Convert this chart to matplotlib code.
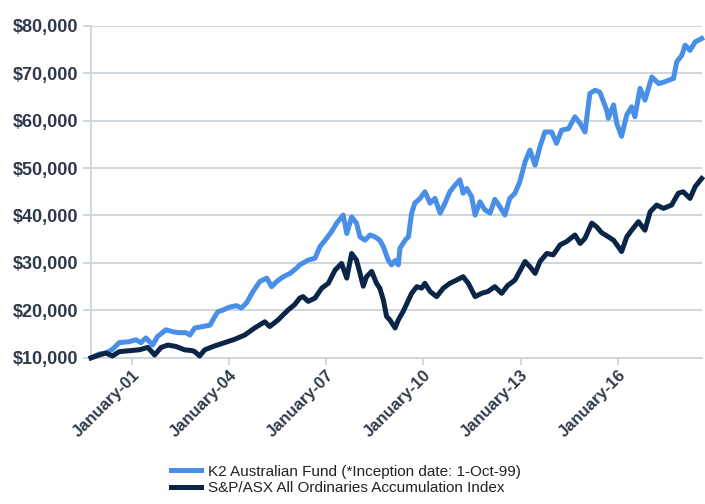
import numpy as np
import pandas as pd
import matplotlib
matplotlib.use("Agg")
import matplotlib.pyplot as plt
from matplotlib.ticker import FuncFormatter

# Growth of $10,000, x as decimal years
k2_years = [1999.75, 2000.00, 2000.21, 2000.41, 2000.62, 2000.93, 2001.13, 2001.29, 2001.44,
            2001.65, 2001.80, 2002.06, 2002.27, 2002.46, 2002.68, 2002.80, 2002.95, 2003.20,
            2003.42, 2003.51, 2003.66, 2003.83, 2004.03, 2004.24, 2004.39, 2004.55, 2004.75,
            2004.96, 2005.17, 2005.32, 2005.48, 2005.68, 2005.89, 2006.09, 2006.19, 2006.45,
            2006.66, 2006.81, 2007.02, 2007.17, 2007.33, 2007.53, 2007.64, 2007.79, 2007.94,
            2008.05, 2008.20, 2008.36, 2008.51, 2008.66, 2008.77, 2008.92, 2009.02, 2009.13,
            2009.23, 2009.28, 2009.44, 2009.54, 2009.64, 2009.74, 2009.90, 2010.05, 2010.21,
            2010.36, 2010.52, 2010.67, 2010.82, 2010.98, 2011.13, 2011.23, 2011.34, 2011.49,
            2011.60, 2011.75, 2011.90, 2012.06, 2012.21, 2012.37, 2012.52, 2012.67, 2012.83,
            2012.98, 2013.14, 2013.29, 2013.45, 2013.60, 2013.75, 2013.96, 2014.11, 2014.27,
            2014.48, 2014.68, 2014.84, 2014.99, 2015.14, 2015.30, 2015.45, 2015.56, 2015.66,
            2015.71, 2015.87, 2015.97, 2016.12, 2016.28, 2016.43, 2016.53, 2016.69, 2016.84,
            2017.05, 2017.26, 2017.46, 2017.72, 2017.82, 2017.98, 2018.08, 2018.23, 2018.39,
            2018.59]
k2_values = [10000, 10800, 11000, 11800, 13200, 13400, 13800, 13200, 14200,
             12700, 14500, 15900, 15500, 15300, 15300, 14800, 16300, 16600,
             16900, 18000, 19700, 20100, 20700, 21000, 20500, 21600, 24000,
             26100, 26800, 25000, 26100, 27100, 27800, 28900, 29600, 30600,
             31000, 33400, 35200, 36600, 38400, 40100, 36200, 39700, 38400,
             35500, 34800, 35900, 35500, 34800, 33400, 30600, 29600, 30500,
             29600, 33100, 34800, 35500, 40500, 42600, 43600, 45000, 42600,
             43600, 40500, 42600, 45000, 46400, 47500, 44700, 45700, 44000,
             40100, 42900, 41200, 40500, 43400, 41800, 40100, 43600, 44700,
             47100, 51300, 53800, 50600, 54500, 57600, 57600, 55200, 58000,
             58300, 60800, 59400, 57600, 65700, 66400, 66000, 64000, 62200,
             60500, 63300, 59400, 56700, 61200, 62900, 60800, 66800, 64300,
             69200, 67800, 68200, 68900, 72400, 73800, 75900, 74800, 76600,
             77300]

asx_years = [1999.75, 2000.00, 2000.21, 2000.41, 2000.62, 2000.93, 2001.24, 2001.50, 2001.71,
             2001.91, 2002.12, 2002.37, 2002.63, 2002.88, 2002.95, 2003.10, 2003.26, 2003.56,
             2003.87, 2004.18, 2004.49, 2004.80, 2005.11, 2005.26, 2005.52, 2005.83, 2006.03,
             2006.19, 2006.29, 2006.45, 2006.66, 2006.87, 2007.07, 2007.28, 2007.48, 2007.64,
             2007.79, 2007.94, 2008.05, 2008.15, 2008.25, 2008.41, 2008.56, 2008.66, 2008.77,
             2008.87, 2008.97, 2009.13, 2009.23, 2009.38, 2009.64, 2009.80, 2009.95, 2010.05,
             2010.21, 2010.41, 2010.62, 2010.82, 2011.03, 2011.23, 2011.39, 2011.60, 2011.80,
             2012.00, 2012.21, 2012.42, 2012.60, 2012.83, 2013.14, 2013.29, 2013.45, 2013.60,
             2013.81, 2014.01, 2014.22, 2014.42, 2014.68, 2014.84, 2014.99, 2015.20, 2015.35,
             2015.50, 2015.71, 2015.87, 2016.02, 2016.12, 2016.28, 2016.43, 2016.64, 2016.84,
             2017.00, 2017.20, 2017.41, 2017.66, 2017.87, 2018.02, 2018.23, 2018.39, 2018.59]
asx_values = [10000, 10600, 11000, 10400, 11300, 11500, 11700, 12200, 10600,
              12200, 12700, 12400, 11700, 11500, 11300, 10400, 11700, 12500,
              13200, 13900, 14800, 16300, 17600, 16600, 18000, 20100, 21200,
              22600, 22900, 21900, 22600, 24700, 25700, 28500, 29900, 26800,
              32000, 30600, 27800, 25100, 27100, 28200, 25700, 24700, 22200,
              18700, 18000, 16300, 18000, 19800, 23600, 25000, 24700, 25700,
              24000, 22900, 24700, 25700, 26400, 27100, 25700, 22900, 23600,
              24000, 25000, 23600, 25200, 26400, 30300, 29200, 27800, 30300,
              32000, 31700, 33800, 34500, 35900, 34100, 35200, 38400, 37600,
              36400, 35500, 34800, 33400, 32400, 35500, 36900, 38700, 36900,
              40800, 42200, 41500, 42200, 44700, 45000, 43600, 46100, 47800]

tick_years = [2001, 2004, 2007, 2010, 2013, 2016]
series_labels = ["K2 Australian Fund (*Inception date: 1-Oct-99)",
                 "S&P/ASX All Ordinaries Accumulation Index"]


def to_dates(years):
    out = []
    for y in years:
        base = pd.Timestamp(int(y), 1, 1)
        out.append(base + pd.Timedelta(days=(y - int(y)) * 365.25))
    return out


text_col = "#2e3a4b"
grid_col = "#cdd4da"

fig = plt.figure(figsize=(7.05, 5.04), dpi=100)
ax = fig.add_axes([0.129, 0.290, 0.867, 0.659])

ax.plot(to_dates(k2_years), k2_values, color="#4a8fe7", lw=3.6, label=series_labels[0],
        solid_joinstyle="round", clip_on=False, zorder=3)
ax.plot(to_dates(asx_years), asx_values, color="#0b2548", lw=3.6, label=series_labels[1],
        solid_joinstyle="round", clip_on=False, zorder=4)

ax.set_ylim(10000, 80000)
ax.set_xlim(pd.Timestamp(1999, 10, 1), pd.Timestamp(2018, 8, 10))
ax.set_yticks(np.arange(10000, 80001, 10000))
ax.yaxis.set_major_formatter(FuncFormatter(lambda v, p: "${:,.0f}".format(v)))
ax.grid(axis="y", color=grid_col, lw=1.3)
ax.set_axisbelow(True)

ax.set_xticks([pd.Timestamp(y, 1, 1) for y in tick_years])
ax.set_xticklabels(["January-%02d" % (y % 100) for y in tick_years])

for s in ["top", "right"]:
    ax.spines[s].set_visible(False)
for s in ["left", "bottom"]:
    ax.spines[s].set_color(grid_col)
    ax.spines[s].set_linewidth(1.3)

ax.tick_params(axis="y", length=6, color=grid_col, width=1.3, pad=3)
ax.tick_params(axis="x", length=5, color=grid_col, width=1.3, pad=2)
for lab in ax.get_yticklabels():
    lab.set_fontfamily("Liberation Sans")
    lab.set_fontweight("bold")
    lab.set_fontsize(13)
    lab.set_color(text_col)
for lab in ax.get_xticklabels():
    lab.set_fontfamily("Liberation Sans")
    lab.set_fontweight("bold")
    lab.set_fontsize(12)
    lab.set_color(text_col)
    lab.set_rotation(45)
    lab.set_ha("right")
    lab.set_rotation_mode("anchor")

fig.legend(loc="center", bbox_to_anchor=(0.491, 0.048), frameon=False, ncol=1,
           prop={"family": "Liberation Sans", "size": 11}, handlelength=1.95,
           labelspacing=0.15, handletextpad=0.5, labelcolor="#222222")

fig.savefig("out.png", dpi=100)
